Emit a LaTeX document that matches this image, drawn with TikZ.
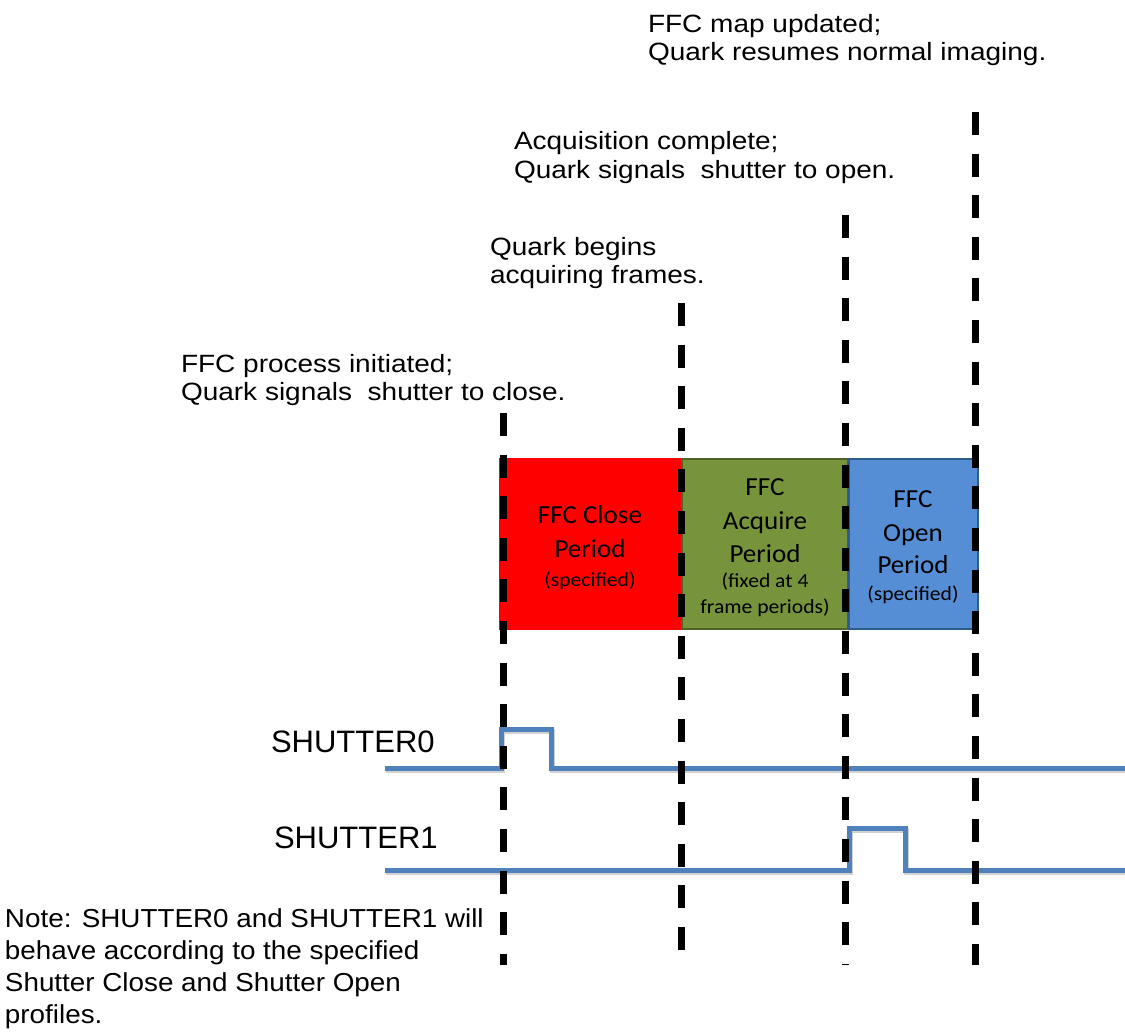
\documentclass[tikz,border=0pt]{standalone}
\usepackage{fontspec}
\usepackage{graphicx}
\setmainfont{Liberation Sans}
\newfontfamily\carlito{Carlito}
\definecolor{ffcred}{HTML}{FF0000}
\definecolor{ffcgreen}{HTML}{77933C}
\definecolor{ffcgreenb}{HTML}{4F6228}
\definecolor{ffcblue}{HTML}{558ED5}
\definecolor{ffcblueb}{HTML}{2F5A8C}
\definecolor{sigblue}{HTML}{4F81BD}
\newcommand\sx[2]{\scalebox{#1}[1]{#2}}
\begin{document}
\begin{tikzpicture}[x=0.75pt,y=-0.75pt,
  lbl/.style={anchor=base west, inner sep=0pt, outer sep=0pt, font=\fontsize{18.75pt}{21pt}\selectfont},
  notelbl/.style={anchor=base west, inner sep=0pt, outer sep=0pt, font=\fontsize{19.5pt}{22pt}\selectfont},
  siglbl/.style={anchor=base west, inner sep=0pt, outer sep=0pt, font=\fontsize{23.25pt}{26pt}\selectfont},
  btxt/.style={anchor=base, inner sep=0pt, outer sep=0pt, font=\carlito\fontsize{19.5pt}{22pt}\selectfont},
  bsmall/.style={anchor=base, inner sep=0pt, outer sep=0pt, font=\carlito\fontsize{15pt}{18pt}\selectfont},
  periodbox/.style={rectangle, inner sep=0pt, outer sep=0pt, minimum height=127.5pt, line width=1pt},
  markline/.style={line width=5.25pt, dash pattern=on 17.25pt off 13.95pt, line cap=butt, black},
  signal/.style={line width=3.75pt, sigblue, line join=miter,
    preaction={draw=black!18, line width=3.75pt, transform canvas={shift={(1pt,-2pt)}}}}
]
\fill[white] (0,0) rectangle (1125,1032);
\useasboundingbox (0,0) rectangle (1125,1032);

% period boxes
\node[periodbox, fill=ffcred, draw=ffcred, minimum width=135.75pt] (closebox) at (590.5,544) {};
\node[periodbox, fill=ffcgreen, draw=ffcgreenb, minimum width=124.5pt] (acqbox) at (765,544) {};
\node[periodbox, fill=ffcblue, draw=ffcblueb, minimum width=96.75pt] (openbox) at (913.5,544) {};

% box texts
\node[btxt] (c1) at (590,523) {\sx{1.04}{FFC Close}};
\node[btxt] (c2) at (590,557) {\sx{1.04}{Period}};
\node[bsmall] (c3) at (590,586) {\sx{1.08}{(specified)}};

\node[btxt] (a1) at (765,495) {\sx{1.04}{FFC}};
\node[btxt] (a2) at (765,529) {\sx{1.04}{Acquire}};
\node[btxt] (a3) at (765,562) {\sx{1.04}{Period}};
\node[bsmall] (a4) at (765,587) {\sx{1.08}{(fixed at 4}};
\node[bsmall] (a5) at (765,613) {\sx{1.08}{frame periods)}};

\node[btxt] (o1) at (913,507) {\sx{1.04}{FFC}};
\node[btxt] (o2) at (913,541) {\sx{1.04}{Open}};
\node[btxt] (o3) at (913,573) {\sx{1.04}{Period}};
\node[bsmall] (o4) at (913,600) {\sx{1.08}{(specified)}};

% signals
\coordinate (s0start) at (385,768);
\coordinate (s0end) at (1125,768);
\coordinate (s1start) at (385,870);
\coordinate (s1end) at (1125,870);
\draw[signal] (s0start) -- ++(116,0) -- ++(0,-39) -- ++(50,0) -- ++(0,39) -- (s0end);
\draw[signal] (s1start) -- ++(464,0) -- ++(0,-42) -- ++(56,0) -- ++(0,42) -- (s1end);

% event markers
\coordinate (d1top) at (503,413);
\coordinate (d1bot) at (503,965);
\coordinate (d2top) at (681,303);
\coordinate (d2bot) at (681,950);
\coordinate (d3top) at (845,215);
\coordinate (d3bot) at (845,965);
\coordinate (d4top) at (975,112);
\coordinate (d4bot) at (975,965);
\draw[markline] (d1top) -- (d1bot);
\draw[markline] (d2top) -- (d2bot);
\draw[markline] (d3top) -- (d3bot);
\draw[markline] (d4top) -- (d4bot);

% event texts
\node[lbl] (t1a) at (648,32) {\sx{1.12}{FFC map updated;}};
\node[lbl] (t1b) at (648,60) {\sx{1.12}{Quark resumes normal imaging.}};
\node[lbl] (t2a) at (514,149) {\sx{1.12}{Acquisition complete;}};
\node[lbl] (t2b) at (514,178) {\sx{1.12}{Quark signals\ \ shutter to open.}};
\node[lbl] (t3a) at (490,255) {\sx{1.12}{Quark begins}};
\node[lbl] (t3b) at (490,283) {\sx{1.12}{acquiring frames.}};
\node[lbl] (t4a) at (181,372) {\sx{1.12}{FFC process initiated;}};
\node[lbl] (t4b) at (181,400) {\sx{1.12}{Quark signals\ \ shutter to close.}};

% signal labels
\node[siglbl] (sh0) at (271,752) {SHUTTER0};
\node[siglbl] (sh1) at (274,848) {SHUTTER1};

% note
\node[notelbl] (n1) at (5,927) {\sx{1.07}{Note: SHUTTER0 and SHUTTER1 will}};
\node[notelbl] (n2) at (5,959) {\sx{1.07}{behave according to the specified}};
\node[notelbl] (n3) at (5,991) {\sx{1.07}{Shutter Close and Shutter Open}};
\node[notelbl] (n4) at (5,1023) {\sx{1.07}{profiles.}};
\end{tikzpicture}
\end{document}
